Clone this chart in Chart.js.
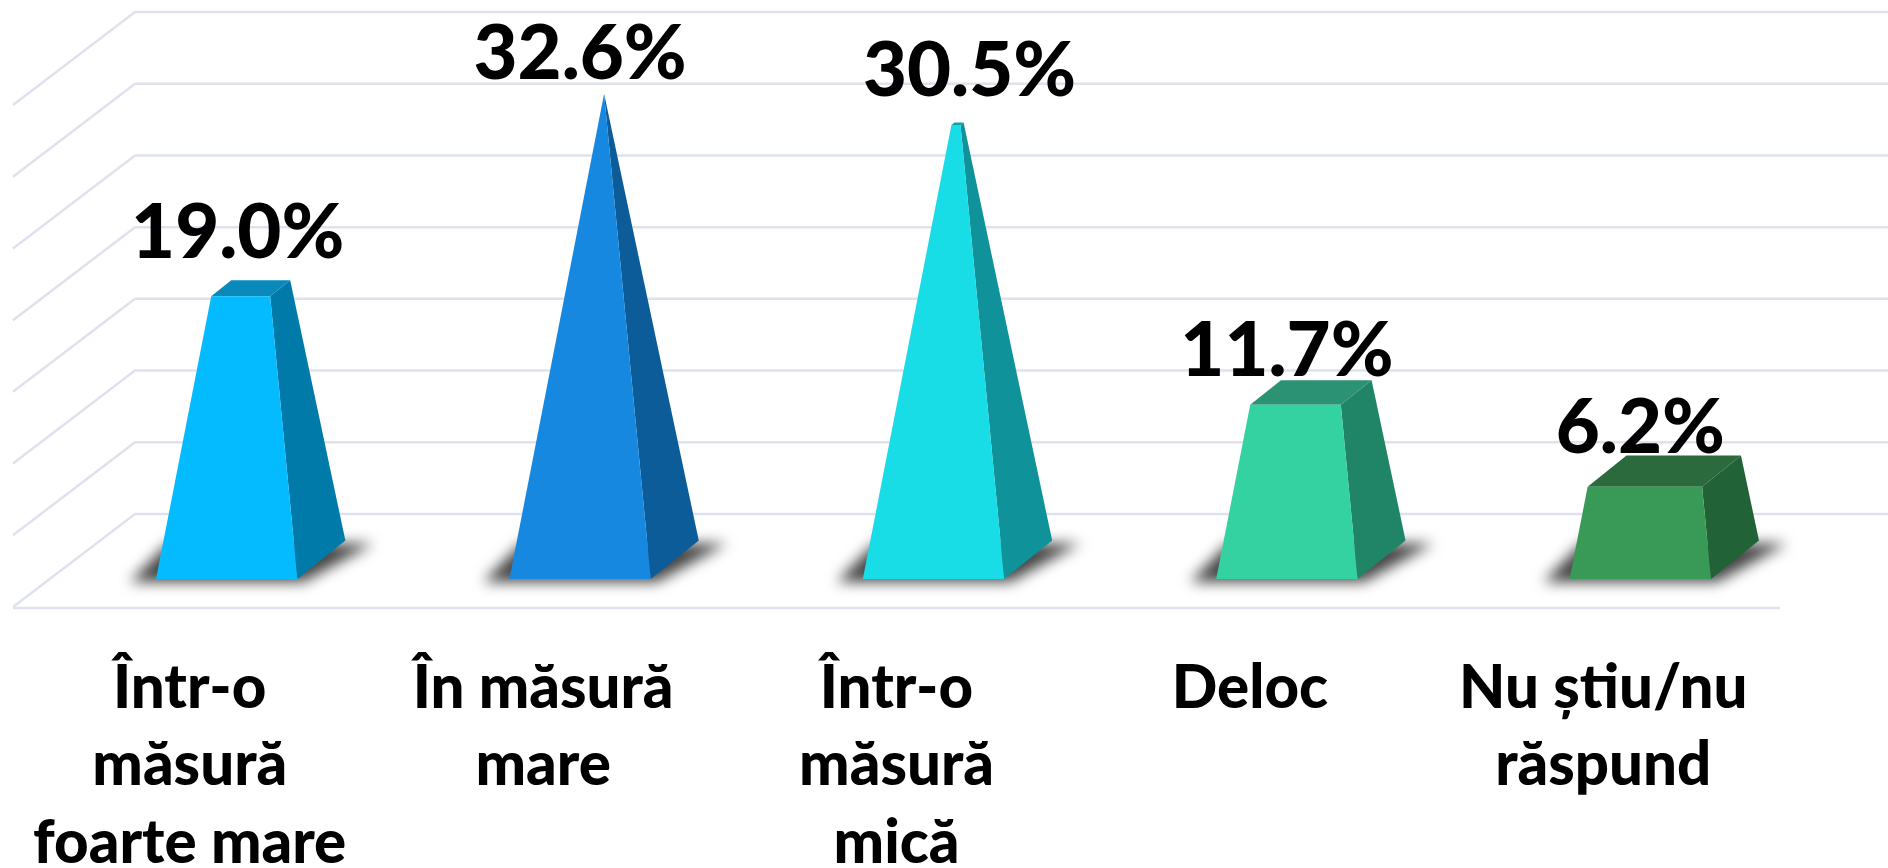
<!DOCTYPE html>
<html lang="ro">
<head>
<meta charset="utf-8">
<title>Chart</title>
<script src="https://cdn.jsdelivr.net/npm/chart.js@4"></script>
<style>
    html, body { margin: 0; padding: 0; background: #ffffff; }
    #zone { width: 1888px; height: 868px; overflow: hidden; }
</style>
</head>
<body>
<div id="zone"><canvas id="barCanvas"></canvas></div>
<script>
const categories = [
    ["Într-o", "măsură", "foarte mare"],
    ["În măsură", "mare"],
    ["Într-o", "măsură", "mică"],
    "Deloc",
    ["Nu știu/nu", "răspund"]
]
const values = [19.0, 32.6, 30.5, 11.7, 6.2]
const wallTicks = [0, 5, 10, 15, 20, 25, 30, 35]

const frontColors = ["#05BBFF", "#1688E0", "#18DCE6", "#34D2A0", "#389A56"]
const sideColors = ["#007AA9", "#0B5C99", "#0F929A", "#208466", "#216236"]
const topColors = ["#0A8ABB", "#0B5C99", "#12A0A8", "#2C9274", "#2A6A3C"]

// decalage des etiquettes par rapport au sommet de la barre
const labelDx = [11, 0, 36, 0, 0]
const labelGap = [22, 15, 27, 4, 3]

const GRID_COLOR = "#DFE2EE"
const FLOOR_DX = 122 // profondeur du mur
const FLOOR_DY = 93
const BAR_SHIFT = 37 // les barres sont decalees par rapport aux labels
const DEPTH_X = 48
const DEPTH_Y = 38.5

function poly(ctx, pts, color) {
    ctx.fillStyle = color
    ctx.beginPath()
    pts.forEach((p, i) => i ? ctx.lineTo(p[0], p[1]) : ctx.moveTo(p[0], p[1]))
    ctx.closePath()
    ctx.fill()
}

// mur du fond + sol
const wallPlugin = {
    id: "wall",
    beforeDatasetsDraw(chart) {
        const ctx = chart.ctx
        const area = chart.chartArea
        const wall = chart.scales.yWall
        ctx.save()
        ctx.strokeStyle = GRID_COLOR
        ctx.lineWidth = 2.5
        wallTicks.forEach(t => {
            const y = wall.getPixelForValue(t)
            ctx.beginPath()
            ctx.moveTo(area.left, y + FLOOR_DY)
            ctx.lineTo(area.left + FLOOR_DX, y)
            ctx.lineTo(chart.width, y)
            ctx.stroke()
        })
        ctx.beginPath()
        ctx.moveTo(area.left, area.bottom)
        ctx.lineTo(area.right, area.bottom)
        ctx.stroke()
        ctx.restore()
    }
}

// pyramides tronquees : le sommet commun est a la valeur max
const pyramidPlugin = {
    id: "pyramid",
    beforeDatasetDraw(chart, args) {
        const ctx = chart.ctx
        const meta = args.meta
        const maxVal = Math.max(...values)
        const yScale = chart.scales.y
        const apexY = yScale.getPixelForValue(maxVal)

        meta.data.forEach((bar, i) => {
            const half = bar.width / 2
            const baseY = bar.base
            const left = bar.x + BAR_SHIFT - half
            const right = bar.x + BAR_SHIFT + half
            const apexX = bar.x + BAR_SHIFT + DEPTH_X / 2
            const t = values[i] / maxVal
            const lift = (p) => [p[0] + t * (apexX - p[0]), p[1] + t * (apexY - p[1])]

            const fl = [left, baseY]
            const fr = [right, baseY]
            const br = [right + DEPTH_X, baseY - DEPTH_Y]
            const bl = [left + DEPTH_X, baseY - DEPTH_Y]
            const tfl = lift(fl), tfr = lift(fr), tbr = lift(br), tbl = lift(bl)

            // ombre au sol
            ctx.save()
            ctx.filter = "blur(7px)"
            poly(ctx, [[left - 26, baseY + 3], [right + 6, baseY + 3], [br[0] + 28, br[1] + 3], [left + 12, br[1] + 3]], "#444444")
            ctx.restore()

            poly(ctx, [tfl, tfr, tbr, tbl], topColors[i])
            poly(ctx, [fr, br, tbr, tfr], sideColors[i])
            poly(ctx, [fl, fr, tfr, tfl], frontColors[i])

            ctx.save()
            ctx.fillStyle = "#000000"
            ctx.font = "900 76px Lato"
            ctx.textAlign = "center"
            ctx.textBaseline = "alphabetic"
            ctx.fillText(values[i].toFixed(1) + "%", bar.x + BAR_SHIFT + labelDx[i], tbr[1] - labelGap[i])
            ctx.restore()
        })
        return false // on ne dessine pas le rectangle d'origine
    }
}

const barChart = new Chart(document.getElementById("barCanvas"), {
    type: "bar",
    data: {
        labels: categories,
        datasets: [{
            data: values,
            backgroundColor: frontColors,
            yAxisID: "y",
            categoryPercentage: 1,
            barPercentage: 0.4
        }]
    },
    options: {
        responsive: true,
        maintainAspectRatio: false,
        animation: false,
        layout: { padding: { left: 13, right: 108, top: 12, bottom: 0 } },
        plugins: {
            legend: { display: false },
            tooltip: { enabled: false }
        },
        scales: {
            x: {
                grid: { display: false },
                border: { display: false },
                afterFit(scale) {
                    // hauteur fixe, et pas de marge auto a cause du long label
                    scale.height = 260
                    scale.paddingLeft = 0
                    scale.paddingRight = 0
                },
                ticks: {
                    color: "#000000",
                    font: { family: "Lato", weight: "900", size: 60, lineHeight: 1.29 },
                    padding: 34,
                    maxRotation: 0,
                    minRotation: 0,
                    autoSkip: false
                }
            },
            y: { display: false, min: -1.95, max: 38.1 },
            yWall: { display: false, min: -6.555, max: 35 }
        }
    },
    plugins: [wallPlugin, pyramidPlugin]
})
</script>
</body>
</html>
